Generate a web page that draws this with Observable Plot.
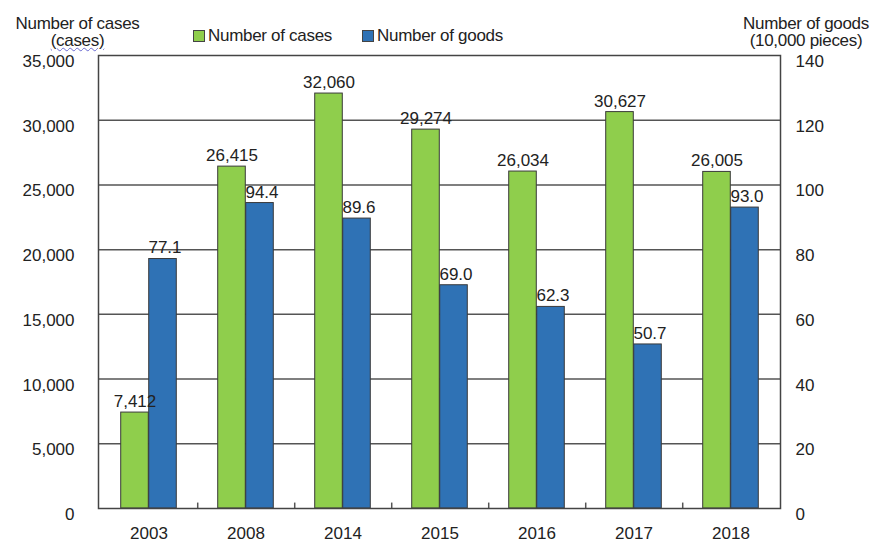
<!DOCTYPE html>
<html>
<head>
<meta charset="utf-8">
<script src="https://cdn.jsdelivr.net/npm/d3@7"></script>
<script src="https://cdn.jsdelivr.net/npm/@observablehq/plot@0.6"></script>
<style>
  html, body { margin: 0; padding: 0; background: #fff; }
  body { width: 877px; height: 540px; overflow: hidden; font-family: Arial, "Liberation Sans", sans-serif; color: #222; }
  #head { position: relative; width: 877px; height: 48px; font-size: 17px; letter-spacing: -0.3px; }
  .t { position: absolute; white-space: nowrap; line-height: 17px; }
  .sw { display: inline-block; width: 10px; height: 10px; border: 1px solid #444; vertical-align: -1px; margin-right: 3px; }
  .u { text-decoration: underline wavy #6a6ad0; text-decoration-thickness: 1px; }
  #chart svg { display: block; }
</style>
</head>
<body>
<div id="head">
  <div class="t" style="left:12px; top:15px; width:131px; text-align:center;">Number of cases<br><span class="u">(cases)</span></div>
  <div class="t" style="left:193px; top:27px;"><span class="sw" style="background:#8fce4c"></span>Number of cases</div>
  <div class="t" style="left:362px; top:27px;"><span class="sw" style="background:#2f72b5"></span>Number of goods</div>
  <div class="t" style="left:738px; top:15px; width:136px; text-align:center;">Number of goods<br>(10,000 pieces)</div>
</div>
<div id="chart"></div>
<script>
const years = ["2003", "2008", "2014", "2015", "2016", "2017", "2018"];
const cases = [7412, 26415, 32060, 29274, 26034, 30627, 26005];
const goods = [77.1, 94.4, 89.6, 69.0, 62.3, 50.7, 93.0];
const casesTicks = [0, 5000, 10000, 15000, 20000, 25000, 30000, 35000];
const goodsTicks = [0, 20, 40, 60, 80, 100, 120, 140];

const ratio = 35000 / 140; // right axis scaling
const rows = years.map((y, i) => ({year: y, cases: cases[i], goods: goods[i], goodsScaled: goods[i] * ratio}));

const W = 877, H = 492, mL = 98, mR = 97;
const bw = (W - mL - mR) / years.length;
const barW = 28;

const chart = Plot.plot({
  width: W,
  height: H,
  marginLeft: mL,
  marginRight: mR,
  marginTop: 7,
  marginBottom: 32,
  style: {fontFamily: "Arial, 'Liberation Sans', sans-serif", fontSize: "17px", color: "#222", background: "#fff"},
  x: {type: "band", domain: years, padding: 0, axis: null, label: null},
  y: {domain: [0, 35000], axis: null, label: null},
  marks: [
    Plot.ruleY(casesTicks.filter(d => d > 0 && d < 35000), {stroke: "#555", strokeWidth: 1.5}),
    Plot.barY(rows, {x: "year", y: "cases", fill: "#8fce4c", stroke: "#3a3a3a", strokeWidth: 1,
      insetLeft: bw / 2 - barW, insetRight: bw / 2}),
    Plot.barY(rows, {x: "year", y: "goodsScaled", fill: "#2f72b5", stroke: "#3a3a3a", strokeWidth: 1,
      insetLeft: bw / 2, insetRight: bw / 2 - barW}),
    Plot.text(rows, {x: "year", y: "cases", text: d => d3.format(",")(d.cases), dx: -barW / 2, dy: -11, fill: "#222"}),
    Plot.text(rows, {x: "year", y: "goodsScaled", text: d => d.goods.toFixed(1), dx: barW / 2 + 2, dy: -11, fill: "#222"}),
    Plot.ruleX(years.slice(0, -1), {x: d => d, dx: bw / 2, y1: 0, y2: 420, stroke: "#555", strokeWidth: 1.5}),
    Plot.frame({stroke: "#444", strokeWidth: 1.5}),
    Plot.axisX({anchor: "bottom", tickSize: 0, tickPadding: 18, label: null, fill: "#222"}),
    Plot.axisY(casesTicks, {anchor: "left", tickSize: 0, tickPadding: 24, dy: 6, tickFormat: d3.format(","), label: null, fill: "#222"}),
    Plot.axisY(casesTicks, {anchor: "right", tickSize: 0, tickPadding: 15, dy: 6, tickFormat: (d, i) => String(goodsTicks[i]), label: null, fill: "#222"})
  ]
});
document.getElementById("chart").appendChild(chart);
</script>
</body>
</html>
